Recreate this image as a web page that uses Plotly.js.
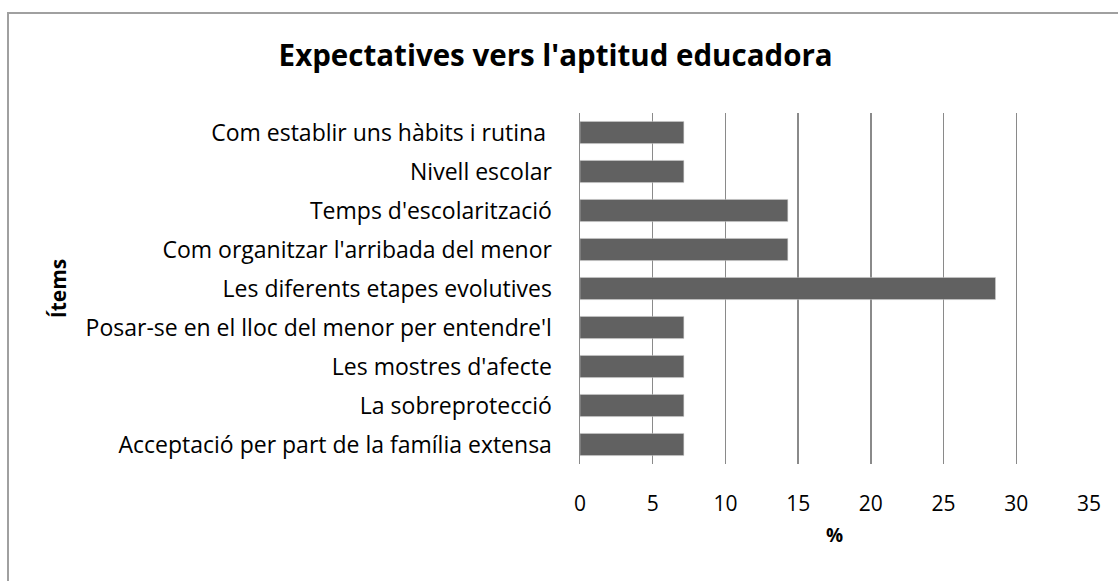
<!DOCTYPE html>
<html>
<head>
<meta charset="utf-8">
<script src="https://cdn.plot.ly/plotly-3.0.1.min.js"></script>
<style>
  html, body { margin: 0; padding: 0; background: #fff; }
  #wrap { position: relative; width: 1118px; height: 581px; overflow: hidden; }
  #chart { position: absolute; left: 0; top: 0; width: 1118px; height: 581px; }
  #frame { position: absolute; left: 7px; top: 12px; width: 1200px; height: 700px;
           border: 2px solid #a0a0a0; box-sizing: border-box; pointer-events: none; }
</style>
</head>
<body>
<div id="wrap">
  <div id="chart"></div>
  <div id="frame"></div>
</div>
<script>
const categories = [
  "Com establir uns hàbits i rutina\u00a0",
  "Nivell escolar",
  "Temps d'escolarització",
  "Com organitzar l'arribada del menor",
  "Les diferents etapes evolutives",
  "Posar-se en el lloc del menor per entendre'l",
  "Les mostres d'afecte",
  "La sobreprotecció",
  "Acceptació per part de la família extensa"
];
const values = [7.14, 7.14, 14.29, 14.29, 28.57, 7.14, 7.14, 7.14, 7.14];
const xTicks = [0, 5, 10, 15, 20, 25, 30, 35];

const FONT = "Open Sans, Lato, sans-serif";

const trace = {
  type: "bar",
  orientation: "h",
  x: values,
  y: categories,
  marker: { color: "#616161", line: { color: "#d0d0d0", width: 0.5 } },
  hoverinfo: "x+y"
};

const layout = {
  width: 1118,
  height: 581,
  margin: { l: 580, r: 29, t: 113, b: 117 },
  paper_bgcolor: "#ffffff",
  plot_bgcolor: "#ffffff",
  bargap: 0.43,
  showlegend: false,
  title: {
    text: "<b>Expectatives vers l'aptitud educadora</b>",
    font: { family: FONT, size: 29.5, color: "#000" },
    x: 0.497, xanchor: "center",
    y: 0.905, yanchor: "middle"
  },
  font: { family: FONT, color: "#000" },
  xaxis: {
    range: [0, 35],
    tickvals: xTicks,
    ticktext: xTicks.map(String),
    showgrid: true,
    gridcolor: "#8a8a8a",
    gridwidth: 1.5,
    zeroline: false,
    showline: false,
    ticks: "",
    tickfont: { family: FONT, size: 21, color: "#000" },
    ticklabelstandoff: 25,
    title: { text: "<b>%</b>", font: { family: FONT, size: 19, color: "#000" }, standoff: 12 },
    fixedrange: true
  },
  yaxis: {
    type: "category",
    autorange: "reversed",
    showgrid: false,
    zeroline: false,
    showline: true,
    linecolor: "#8a8a8a",
    linewidth: 1.5,
    ticks: "",
    tickfont: { family: FONT, size: 23, color: "#000" },
    ticklabelstandoff: 22,
    title: { text: "<b>Ítems</b>", font: { family: FONT, size: 21, color: "#000" }, standoff: 13 },
    fixedrange: true
  }
};

Plotly.newPlot("chart", [trace], layout, { displayModeBar: false, staticPlot: true });
</script>
</body>
</html>
